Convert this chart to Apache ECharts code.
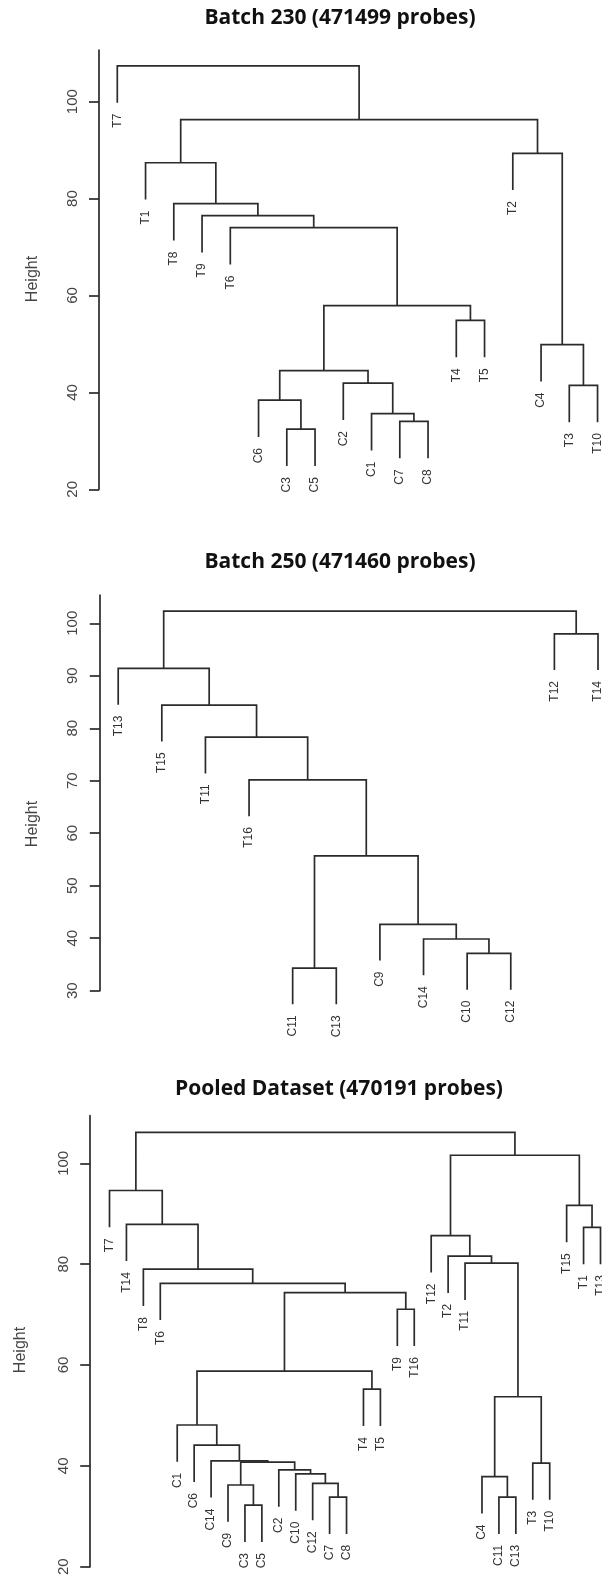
<!DOCTYPE html>
<html><head><meta charset="utf-8">
<script src="https://cdn.jsdelivr.net/npm/echarts@6/dist/echarts.min.js"></script>
<style>html,body{margin:0;padding:0;background:#fff}#c{width:602px;height:1578px}</style>
</head><body><div id="c"></div>
<script>
// ---------- Titles ----------
const panelTitles = ['Batch 230 (471499 probes)', 'Batch 250 (471460 probes)', 'Pooled Dataset (470191 probes)'];
const yAxisTitle = 'Height';

// ---------- Batch 230 ----------
const b230Leaves = ['T7','T1','T8','T9','T6','C6','C3','C5','C2','C1','C7','C8','T4','T5','T2','C4','T3','T10'];
// merges: leaf names or index of an earlier merge
const b230Merges = [['C3','C5'],['C7','C8'],['C6',0],['C1',1],['C2',3],[2,4],['T4','T5'],[5,6],['T6',7],['T9',8],['T8',9],['T1',10],['T3','T10'],['C4',12],['T2',13],[11,14],['T7',15]];
const b230Heights = [32.4,34.0,38.4,35.6,41.9,44.5,54.85,57.9,74.0,76.5,78.95,87.4,41.45,49.85,89.35,96.3,107.4];
const b230Hang = 7.6;
const b230Ticks = [20,40,60,80,100];

// ---------- Batch 250 ----------
const b250Leaves = ['T13','T15','T11','T16','C11','C13','C9','C14','C10','C12','T12','T14'];
const b250Merges = [['C10','C12'],['C14',0],['C9',1],['C11','C13'],[3,2],['T16',4],['T11',5],['T15',6],['T13',7],['T12','T14'],[8,9]];
const b250Heights = [37.1,39.85,42.65,34.3,55.7,70.15,78.3,84.4,91.4,98.0,102.3];
const b250Hang = 6.9;
const b250Ticks = [30,40,50,60,70,80,90,100];

// ---------- Pooled ----------
const poolLeaves = ['T7','T14','T8','T6','C1','C6','C14','C9','C3','C5','C2','C10','C12','C7','C8','T4','T5','T9','T16','T12','T2','T11','C4','C11','C13','T3','T10','T15','T1','T13'];
const poolMerges = [['C3','C5'],['C9',0],['C7','C8'],['C12',2],['C10',3],['C2',4],[1,5],['C14',6],['C6',7],['C1',8],['T4','T5'],[9,10],['T9','T16'],[11,12],['T6',13],['T8',14],['T14',15],['T7',16],['C11','C13'],['C4',18],['T3','T10'],[19,20],['T11',21],['T2',22],['T12',23],['T1','T13'],['T15',25],[24,26],[17,27]];
const poolHeights = [32.2,36.2,33.8,36.5,38.4,39.2,40.75,41.0,44.1,48.1,55.2,58.8,71.05,74.35,76.2,79.0,87.9,94.6,33.8,37.85,40.55,53.7,80.2,81.6,85.65,87.3,91.65,101.6,106.15];
const poolHang = 7.3;
const poolTicks = [20,40,60,80,100];

// ---------- layout helpers ----------
function buildTree(leaves, merges, heights, hang) {
  const pos = {}; leaves.forEach((n, i) => pos[n] = i + 1);
  const nodeX = [], links = [], labels = [];
  const child = (c, h) => {
    if (typeof c === 'string') { const y = h - hang; labels.push([pos[c], y, c]); return [pos[c], y]; }
    return [nodeX[c], heights[c]];
  };
  merges.forEach((m, k) => {
    const h = heights[k];
    const a = child(m[0], h), b = child(m[1], h);
    nodeX[k] = (a[0] + b[0]) / 2;
    links.push([a[0], a[1], b[0], b[1], h]);
  });
  return { links, labels };
}

const panels = [
  { tree: buildTree(b230Leaves, b230Merges, b230Heights, b230Hang), n: b230Leaves.length, ticks: b230Ticks,
    grid: { left: 117.3, top: 50, width: 480.25, height: 439.3 }, ymin: 20, ymax: 110.67, offset: 18.3,
    title: [340, 18], ylab: [32.5, 279] },
  { tree: buildTree(b250Leaves, b250Merges, b250Heights, b250Hang), n: b250Leaves.length, ticks: b250Ticks,
    grid: { left: 118.2, top: 595, width: 479.8, height: 395.7 }, ymin: 30, ymax: 105.39, offset: 18.4,
    title: [340, 562], ylab: [32.5, 824] },
  { tree: buildTree(poolLeaves, poolMerges, poolHeights, poolHang), n: poolLeaves.length, ticks: poolTicks,
    grid: { left: 109.5, top: 1115.7, width: 491, height: 451 }, ymin: 20, ymax: 109.44, offset: 19.3,
    title: [339, 1089.5], ylab: [21, 1350] }
];

const LINE = '#2b2b2b';
const LW = 1.7;
const option = {
  animation: false,
  backgroundColor: '#fff',
  title: panels.map((p, i) => ({
    text: panelTitles[i], left: p.title[0], top: p.title[1], textAlign: 'center', textVerticalAlign: 'middle', padding: 0,
    textStyle: { fontFamily: 'Open Sans', fontWeight: 'bold', fontSize: 21, color: '#111' }
  })),
  graphic: panels.map(p => ({
    type: 'text', x: p.ylab[0], y: p.ylab[1], rotation: Math.PI / 2,
    style: { text: yAxisTitle, fontFamily: 'Liberation Sans', fontSize: 16, fill: '#444', textAlign: 'center', textVerticalAlign: 'middle' }
  })),
  grid: panels.map(p => Object.assign({ containLabel: false }, p.grid)),
  xAxis: panels.map((p, i) => ({ type: 'value', gridIndex: i, min: 1, max: p.n, show: false })),
  yAxis: panels.map((p, i) => ({
    type: 'value', gridIndex: i, min: p.ymin, max: p.ymax, offset: p.offset,
    axisLine: { show: true, lineStyle: { color: LINE, width: LW } },
    axisTick: { show: true, length: 10, customValues: p.ticks, lineStyle: { color: LINE, width: LW } },
    axisLabel: { show: true, rotate: 90, margin: 19, customValues: p.ticks, fontFamily: 'Liberation Sans', fontSize: 15, color: '#444' },
    splitLine: { show: false }
  })),
  series: []
};

panels.forEach((p, i) => {
  option.series.push({
    type: 'custom', name: 'links' + i, xAxisIndex: i, yAxisIndex: i, clip: false, silent: true,
    data: p.tree.links,
    renderItem: (params, api) => {
      const a = api.coord([api.value(0), api.value(1)]);
      const b = api.coord([api.value(0), api.value(4)]);
      const c = api.coord([api.value(2), api.value(4)]);
      const d = api.coord([api.value(2), api.value(3)]);
      return { type: 'polyline', shape: { points: [a, b, c, d] }, style: { stroke: LINE, lineWidth: LW, fill: null } };
    }
  });
  const labs = p.tree.labels;
  option.series.push({
    type: 'custom', name: 'labels' + i, xAxisIndex: i, yAxisIndex: i, clip: false, silent: true,
    data: labs.map(l => [l[0], l[1]]),
    renderItem: (params, api) => {
      const pt = api.coord([api.value(0), api.value(1)]);
      return { type: 'text', x: pt[0], y: pt[1] + 11, rotation: Math.PI / 2,
        style: { text: labs[params.dataIndex][2], fontFamily: 'Liberation Sans', fontSize: 12, fill: '#333', textAlign: 'right', textVerticalAlign: 'middle' } };
    }
  });
});

const chart = echarts.init(document.getElementById('c'), null, { renderer: 'canvas' });
chart.setOption(option);
</script></body></html>
